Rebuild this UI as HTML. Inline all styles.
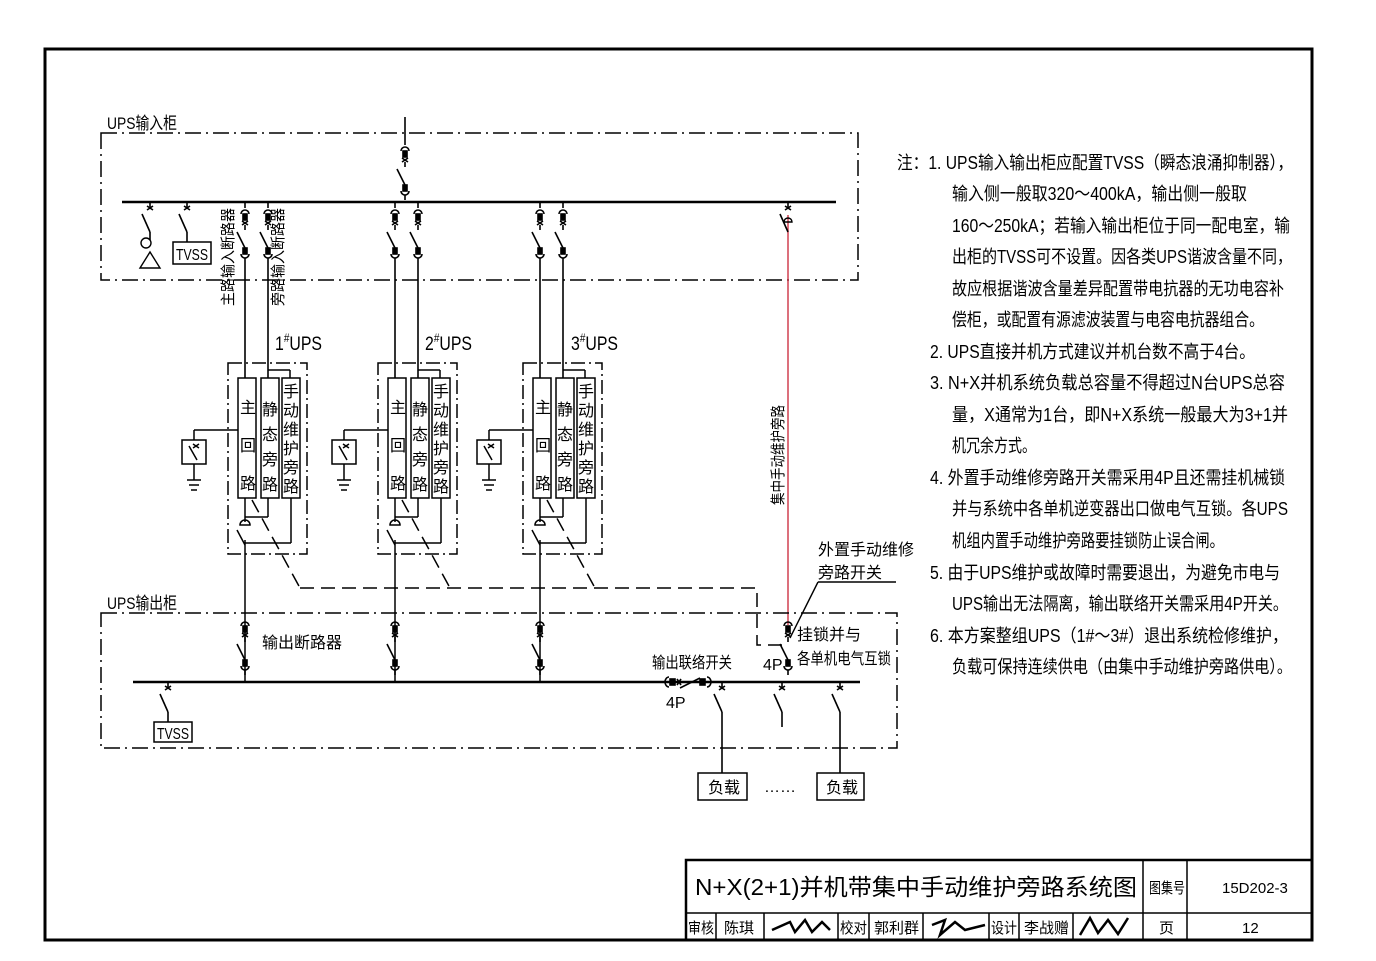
<!DOCTYPE html>
<html><head><meta charset="utf-8"><style>
body{margin:0;background:#fff}
svg{display:block}
text{font-family:"Liberation Sans","Noto Sans CJK SC",sans-serif;fill:#000}
</style></head><body>
<svg width="1376" height="961" viewBox="0 0 1376 961" xmlns="http://www.w3.org/2000/svg">
<defs>
<g id="brk" stroke="#000" stroke-width="1.6" fill="none">
<path d="M-4,6 A4,4 0 0 1 4,6"/><rect x="-2" y="6" width="4" height="6" fill="#000"/>
<path d="M-3,13 L3,17 M3,13 L-3,17"/>
<line x1="0" y1="17" x2="0" y2="22"/>
<line x1="0" y1="40" x2="-8" y2="24"/>
<rect x="-2" y="40" width="4" height="6" fill="#000"/><path d="M-4,46 A4,4 0 0 0 4,46"/>
<line x1="0" y1="50" x2="0" y2="55"/>
</g>
<g id="sw" stroke="#000" stroke-width="1.6" fill="none">
<line x1="0" y1="0" x2="0" y2="6"/><path d="M-3,4 L3,8 M3,4 L-3,8"/>
<line x1="0" y1="30" x2="-8" y2="12"/>
</g>
<g id="ups" stroke="#000" stroke-width="1.5" fill="none">
<rect x="228" y="363" width="79" height="191" stroke-dasharray="14,4,2,4"/>
<rect x="238" y="378" width="18" height="120"/>
<rect x="261" y="378" width="18" height="120"/>
<rect x="282" y="378" width="18" height="120"/>
<line x1="268" y1="370" x2="290" y2="370"/><line x1="290" y1="370" x2="290" y2="378"/>
<line x1="268" y1="498" x2="268" y2="517"/><line x1="268" y1="517" x2="245" y2="517"/>
<line x1="291" y1="498" x2="291" y2="543"/><line x1="291" y1="543" x2="245" y2="543"/>
<line x1="245" y1="498" x2="245" y2="522"/>
<path d="M240,525 A5,5 0 0 1 250,525 Z"/>
<line x1="245" y1="545" x2="237" y2="530"/>
<line x1="245" y1="540" x2="245" y2="682"/>
<line x1="238" y1="430" x2="194" y2="430"/><line x1="194" y1="430" x2="194" y2="440"/>
<rect x="182" y="440" width="24" height="24"/>
<line x1="194" y1="464" x2="194" y2="480"/>
<line x1="187" y1="480" x2="201" y2="480"/><line x1="189" y1="485" x2="199" y2="485"/><line x1="191" y1="490" x2="197" y2="490"/>
<line x1="197" y1="460" x2="189" y2="446"/><path d="M193,444 L199,448 M199,444 L193,448"/>
<path d="M252,500 L300,588" stroke-dasharray="14,7"/>
</g>
</defs>

<rect x="45" y="49" width="1267" height="891" fill="none" stroke="#000" stroke-width="3"/>

<rect x="101" y="133" width="757" height="147" fill="none" stroke="#000" stroke-width="1.5" stroke-dasharray="16,5,2,5"/>
<text x="107" y="129" font-size="17" textLength="70" lengthAdjust="spacingAndGlyphs">UPS输入柜</text>
<line x1="122" y1="202" x2="836" y2="202" stroke="#000" stroke-width="2.5"/>
<line x1="405" y1="117" x2="405" y2="145" stroke="#000" stroke-width="1.6"/>
<use href="#brk" x="405" y="145"/>
<use href="#sw" x="150" y="202"/>
<line x1="150" y1="232" x2="150" y2="240" stroke="#000" stroke-width="1.6"/>
<circle cx="146" cy="243" r="5" fill="none" stroke="#000" stroke-width="1.4"/>
<path d="M140,268 L150,252 L160,268 Z" fill="none" stroke="#000" stroke-width="1.4"/>
<use href="#sw" x="187" y="202"/>
<line x1="187" y1="232" x2="187" y2="242" stroke="#000" stroke-width="1.6"/>
<rect x="173" y="242" width="38" height="22" fill="none" stroke="#000" stroke-width="1.5"/>
<text x="176" y="260" font-size="16" textLength="32" lengthAdjust="spacingAndGlyphs">TVSS</text>
<g stroke="#000" stroke-width="1.6">
<line x1="245" y1="202" x2="245" y2="208"/><line x1="268" y1="202" x2="268" y2="208"/>
<line x1="395" y1="202" x2="395" y2="208"/><line x1="418" y1="202" x2="418" y2="208"/>
<line x1="540" y1="202" x2="540" y2="208"/><line x1="563" y1="202" x2="563" y2="208"/>
<line x1="245" y1="263" x2="245" y2="378"/><line x1="268" y1="263" x2="268" y2="378"/>
<line x1="395" y1="263" x2="395" y2="378"/><line x1="418" y1="263" x2="418" y2="378"/>
<line x1="540" y1="263" x2="540" y2="378"/><line x1="563" y1="263" x2="563" y2="378"/>
</g>
<use href="#brk" x="245" y="208"/><use href="#brk" x="268" y="208"/>
<use href="#brk" x="395" y="208"/><use href="#brk" x="418" y="208"/>
<use href="#brk" x="540" y="208"/><use href="#brk" x="563" y="208"/>
<text transform="translate(233,306) rotate(-90)" font-size="15" textLength="98" lengthAdjust="spacingAndGlyphs">主路输入断路器</text>
<text transform="translate(283,306) rotate(-90)" font-size="15" textLength="98" lengthAdjust="spacingAndGlyphs">旁路输入断路器</text>
<line x1="788" y1="215" x2="788" y2="625" stroke="#d04050" stroke-width="1.5"/>
<use href="#sw" x="788" y="202"/>
<path d="M784,222 A4,4 0 0 1 792,222 Z" fill="none" stroke="#000" stroke-width="1.4"/>
<text transform="translate(783,505) rotate(-90)" font-size="15" textLength="100" lengthAdjust="spacingAndGlyphs">集中手动维护旁路</text>

<use href="#ups"/>
<use href="#ups" x="150"/>
<use href="#ups" x="295"/>
<text x="275" y="350" font-size="19" textLength="47" lengthAdjust="spacingAndGlyphs">1<tspan font-size="12" dy="-8">#</tspan><tspan dy="8">UPS</tspan></text>
<text x="425" y="350" font-size="19" textLength="47" lengthAdjust="spacingAndGlyphs">2<tspan font-size="12" dy="-8">#</tspan><tspan dy="8">UPS</tspan></text>
<text x="571" y="350" font-size="19" textLength="47" lengthAdjust="spacingAndGlyphs">3<tspan font-size="12" dy="-8">#</tspan><tspan dy="8">UPS</tspan></text>
<g font-size="16">
<g id="lbl">
<text x="240" y="413">主</text><text x="240" y="451">回</text><text x="240" y="489">路</text>
<text x="262" y="415">静</text><text x="262" y="440">态</text><text x="262" y="465">旁</text><text x="262" y="490">路</text>
<text x="283" y="397">手</text><text x="283" y="416">动</text><text x="283" y="435">维</text><text x="283" y="454">护</text><text x="283" y="473">旁</text><text x="283" y="492">路</text>
</g>
<use href="#lbl" x="150"/><use href="#lbl" x="295"/>
</g>
<path d="M300,588 L757,588 L757,645 L782,645" fill="none" stroke="#000" stroke-width="1.5" stroke-dasharray="14,7"/>

<rect x="101" y="613" width="796" height="135" fill="none" stroke="#000" stroke-width="1.5" stroke-dasharray="16,5,2,5"/>
<text x="107" y="609" font-size="17" textLength="70" lengthAdjust="spacingAndGlyphs">UPS输出柜</text>
<line x1="133" y1="682" x2="860" y2="682" stroke="#000" stroke-width="2.5"/>
<use href="#brk" x="245" y="620"/><use href="#brk" x="395" y="620"/><use href="#brk" x="540" y="620"/>
<use href="#brk" x="788" y="620"/>
<text x="262" y="648" font-size="16" textLength="80" lengthAdjust="spacingAndGlyphs">输出断路器</text>
<text x="797" y="640" font-size="16">挂锁并与</text>
<text x="797" y="664" font-size="16" textLength="94" lengthAdjust="spacingAndGlyphs">各单机电气互锁</text>
<text x="763" y="670" font-size="16">4P</text>
<text x="818" y="555" font-size="16">外置手动维修</text>
<text x="818" y="578" font-size="16">旁路开关</text>
<line x1="818" y1="582" x2="896" y2="582" stroke="#000" stroke-width="1.4"/>
<line x1="818" y1="582" x2="790" y2="638" stroke="#000" stroke-width="1.4"/>
<use href="#sw" x="168" y="682"/>
<line x1="168" y1="712" x2="168" y2="722" stroke="#000" stroke-width="1.6"/>
<rect x="154" y="722" width="38" height="20" fill="none" stroke="#000" stroke-width="1.5"/>
<text x="157" y="739" font-size="16" textLength="32" lengthAdjust="spacingAndGlyphs">TVSS</text>
<g stroke="#000" stroke-width="1.6" fill="none">
<path d="M669,677 A4,5 0 0 0 669,687"/><rect x="670" y="679" width="5" height="6" fill="#000"/>
<path d="M677,679 L681,685 M681,679 L677,685"/>
<line x1="680" y1="688" x2="700" y2="678"/>
<rect x="700" y="679" width="5" height="6" fill="#000"/><path d="M707,677 A4,5 0 0 1 707,687"/>
</g>
<text x="652" y="668" font-size="16" textLength="80" lengthAdjust="spacingAndGlyphs">输出联络开关</text>
<text x="666" y="708" font-size="16">4P</text>
<use href="#sw" x="722" y="682"/><use href="#sw" x="782" y="682"/><use href="#sw" x="840" y="682"/>
<g stroke="#000" stroke-width="1.6">
<line x1="722" y1="712" x2="722" y2="773"/><line x1="782" y1="712" x2="782" y2="727"/><line x1="840" y1="712" x2="840" y2="773"/>
</g>
<rect x="698" y="773" width="49" height="27" fill="none" stroke="#000" stroke-width="1.5"/>
<rect x="817" y="773" width="47" height="27" fill="none" stroke="#000" stroke-width="1.5"/>
<text x="708" y="793" font-size="16">负载</text>
<text x="826" y="793" font-size="16">负载</text>
<text x="764" y="792" font-size="16">……</text>

<g font-size="18">
<text x="897" y="169" textLength="396" lengthAdjust="spacingAndGlyphs">注：1. UPS输入输出柜应配置TVSS（瞬态浪涌抑制器），</text>
<text x="952" y="200" textLength="295" lengthAdjust="spacingAndGlyphs">输入侧一般取320～400kA，输出侧一般取</text>
<text x="952" y="232" textLength="338" lengthAdjust="spacingAndGlyphs">160～250kA；若输入输出柜位于同一配电室，输</text>
<text x="952" y="263" textLength="340" lengthAdjust="spacingAndGlyphs">出柜的TVSS可不设置。因各类UPS谐波含量不同，</text>
<text x="952" y="295" textLength="332" lengthAdjust="spacingAndGlyphs">故应根据谐波含量差异配置带电抗器的无功电容补</text>
<text x="952" y="326" textLength="312" lengthAdjust="spacingAndGlyphs">偿柜，或配置有源滤波装置与电容电抗器组合。</text>
<text x="930" y="358" textLength="325" lengthAdjust="spacingAndGlyphs">2. UPS直接并机方式建议并机台数不高于4台。</text>
<text x="930" y="389" textLength="355" lengthAdjust="spacingAndGlyphs">3. N+X并机系统负载总容量不得超过N台UPS总容</text>
<text x="952" y="421" textLength="336" lengthAdjust="spacingAndGlyphs">量，X通常为1台，即N+X系统一般最大为3+1并</text>
<text x="952" y="452" textLength="84" lengthAdjust="spacingAndGlyphs">机冗余方式。</text>
<text x="930" y="484" textLength="355" lengthAdjust="spacingAndGlyphs">4. 外置手动维修旁路开关需采用4P且还需挂机械锁</text>
<text x="952" y="515" textLength="336" lengthAdjust="spacingAndGlyphs">并与系统中各单机逆变器出口做电气互锁。各UPS</text>
<text x="952" y="547" textLength="272" lengthAdjust="spacingAndGlyphs">机组内置手动维护旁路要挂锁防止误合闸。</text>
<text x="930" y="579" textLength="350" lengthAdjust="spacingAndGlyphs">5. 由于UPS维护或故障时需要退出，为避免市电与</text>
<text x="952" y="610" textLength="336" lengthAdjust="spacingAndGlyphs">UPS输出无法隔离，输出联络开关需采用4P开关。</text>
<text x="930" y="642" textLength="358" lengthAdjust="spacingAndGlyphs">6. 本方案整组UPS（1#～3#）退出系统检修维护，</text>
<text x="952" y="673" textLength="340" lengthAdjust="spacingAndGlyphs">负载可保持连续供电（由集中手动维护旁路供电）。</text>
</g>

<g stroke="#000" stroke-width="1.5" fill="none">
<rect x="686" y="860" width="626" height="80" stroke-width="2.5"/>
<line x1="686" y1="913" x2="1312" y2="913"/>
<line x1="1143" y1="860" x2="1143" y2="940"/>
<line x1="1187" y1="860" x2="1187" y2="940"/>
<line x1="716" y1="913" x2="716" y2="940"/><line x1="764" y1="913" x2="764" y2="940"/>
<line x1="838" y1="913" x2="838" y2="940"/><line x1="869" y1="913" x2="869" y2="940"/>
<line x1="923" y1="913" x2="923" y2="940"/><line x1="989" y1="913" x2="989" y2="940"/>
<line x1="1019" y1="913" x2="1019" y2="940"/><line x1="1073" y1="913" x2="1073" y2="940"/>
</g>
<text x="695" y="895" font-size="23" textLength="442" lengthAdjust="spacingAndGlyphs">N+X(2+1)并机带集中手动维护旁路系统图</text>
<text x="1149" y="893" font-size="15" textLength="36" lengthAdjust="spacingAndGlyphs">图集号</text>
<text x="1222" y="893" font-size="15">15D202-3</text>
<g font-size="15">
<text x="688" y="933" textLength="26" lengthAdjust="spacingAndGlyphs">审核</text><text x="724" y="933">陈琪</text>
<text x="840" y="933" textLength="27" lengthAdjust="spacingAndGlyphs">校对</text><text x="874" y="933" textLength="45" lengthAdjust="spacingAndGlyphs">郭利群</text>
<text x="991" y="933" textLength="26" lengthAdjust="spacingAndGlyphs">设计</text><text x="1024" y="933" textLength="45" lengthAdjust="spacingAndGlyphs">李战赠</text>
<text x="1159" y="933">页</text><text x="1242" y="933">12</text>
</g>
<g stroke="#000" stroke-width="2.5" fill="none">
<path d="M772,930 L790,922 L795,932 L805,920 L812,932 L822,922 L830,930"/>
<path d="M932,925 L945,920 L940,935 L955,922 L965,930 L985,925"/>
<path d="M1080,935 L1090,918 L1098,933 L1108,920 L1118,934 L1128,918"/>
</g>
</svg>
</body></html>
